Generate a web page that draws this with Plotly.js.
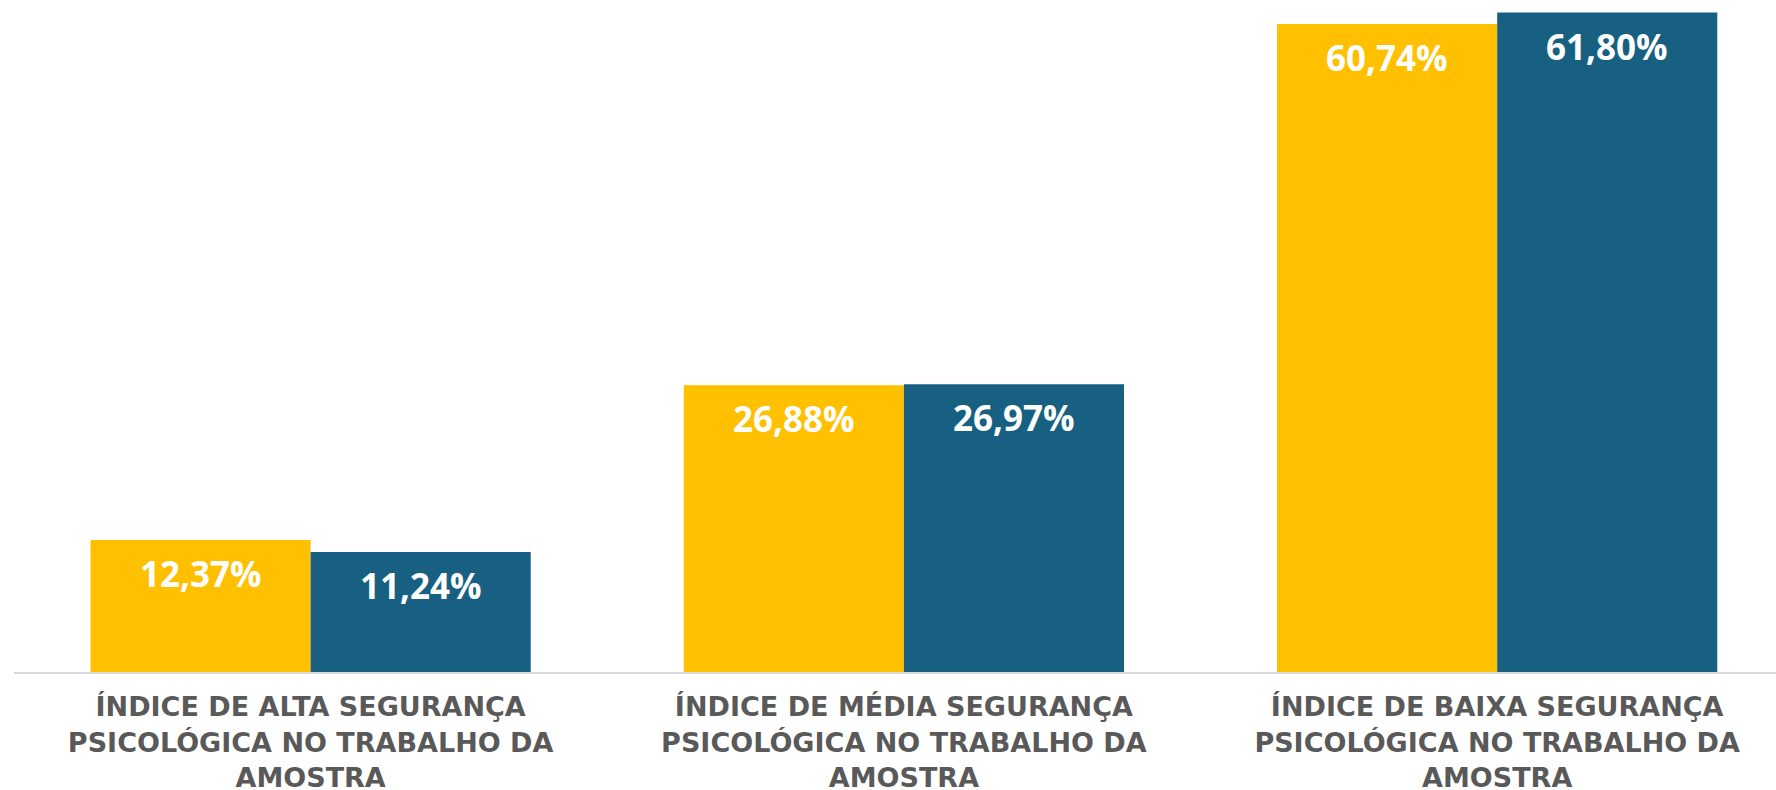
<!DOCTYPE html>
<html>
<head>
<meta charset="utf-8">
<script src="https://cdn.plot.ly/plotly-3.0.1.min.js"></script>
<style>html,body{margin:0;padding:0;background:#fff;}#chart{width:1776px;height:790px;}</style>
</head>
<body>
<div id="chart"></div>
<script>
const categories = [
  "ÍNDICE DE ALTA SEGURANÇA<br>PSICOLÓGICA NO TRABALHO DA<br>AMOSTRA",
  "ÍNDICE DE MÉDIA SEGURANÇA<br>PSICOLÓGICA NO TRABALHO DA<br>AMOSTRA",
  "ÍNDICE DE BAIXA SEGURANÇA<br>PSICOLÓGICA NO TRABALHO DA<br>AMOSTRA"
];
const seriesNames = ["Série 1", "Série 2"];
const series1 = [12.37, 26.88, 60.74];
const series2 = [11.24, 26.97, 61.80];

const colors = ["#FFC000", "#186082"];
const bargap = 0.258;
const fmt = v => v.toFixed(2).replace(".", ",") + "%";

const allSeries = [series1, series2];
const traces = allSeries.map((s, i) => ({
  type: "bar",
  name: seriesNames[i],
  x: categories,
  y: s,
  marker: {color: colors[i]},
  hoverinfo: "skip",
  showlegend: false
}));

const barW = (1 - bargap) / 2;
const annotations = [];
allSeries.forEach((s, i) => {
  const off = (i - 0.5) * barW;
  s.forEach((v, j) => {
    annotations.push({
      x: j + off, y: v, xref: "x", yref: "y",
      text: fmt(v), showarrow: false,
      yanchor: "top", xanchor: "center", yshift: -8,
      font: {family: "Open Sans", size: 35, color: "#ffffff", weight: 700}
    });
  });
});

const layout = {
  width: 1776, height: 790,
  margin: {l: 14, r: 0, t: 0, b: 118},
  paper_bgcolor: "#ffffff", plot_bgcolor: "#ffffff",
  barmode: "group", bargap: bargap, bargroupgap: 0,
  xaxis: {
    type: "category",
    range: [-0.5, 2.47],
    showline: true, linecolor: "#d9d9d9", linewidth: 2,
    showgrid: false, zeroline: false, ticks: "",
    ticklabelstandoff: 10,
    tickfont: {family: "DejaVu Sans", size: 27, color: "#595959", weight: 700}
  },
  yaxis: {
    range: [0, 62.98],
    visible: false, showgrid: false, zeroline: false
  },
  annotations: annotations
};

Plotly.newPlot("chart", traces, layout, {displayModeBar: false, staticPlot: true});
</script>
</body>
</html>
